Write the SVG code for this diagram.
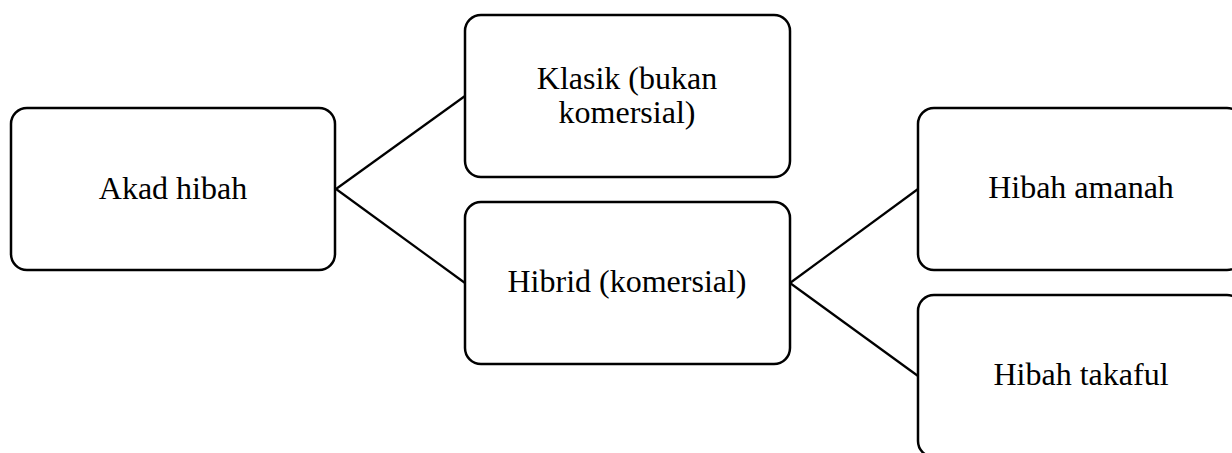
<svg xmlns="http://www.w3.org/2000/svg" width="1232" height="453" viewBox="0 0 1232 453">
<style>
.box{fill:#fff;stroke:#000;stroke-width:2.5}
.lbl{font-family:"Liberation Serif","Times New Roman",serif;font-size:32px;fill:#000;text-anchor:middle}
.conn{stroke:#000;stroke-width:2.2;fill:none}
</style>
<rect width="1232" height="453" fill="#fff"/>
<g id="connectors">
<line class="conn" x1="336" y1="189" x2="465" y2="96"/>
<line class="conn" x1="336" y1="189" x2="465" y2="283"/>
<line class="conn" x1="790" y1="283" x2="918" y2="189"/>
<line class="conn" x1="790" y1="283" x2="918" y2="376"/>
</g>
<g id="akad-hibah">
<rect class="box" x="11" y="108" width="324" height="162" rx="16"/>
<text class="lbl" x="173" y="199">Akad hibah</text>
</g>
<g id="klasik">
<rect class="box" x="465" y="15" width="325" height="162" rx="16"/>
<text class="lbl" x="627" y="89">Klasik (bukan</text>
<text class="lbl" x="627" y="123">komersial)</text>
</g>
<g id="hibrid">
<rect class="box" x="465" y="202" width="325" height="162" rx="16"/>
<text class="lbl" x="627" y="292">Hibrid (komersial)</text>
</g>
<g id="hibah-amanah">
<rect class="box" x="918" y="108" width="325" height="162" rx="16"/>
<text class="lbl" x="1081" y="198">Hibah amanah</text>
</g>
<g id="hibah-takaful">
<rect class="box" x="918" y="295" width="325" height="162" rx="16"/>
<text class="lbl" x="1081" y="385">Hibah takaful</text>
</g>
</svg>
